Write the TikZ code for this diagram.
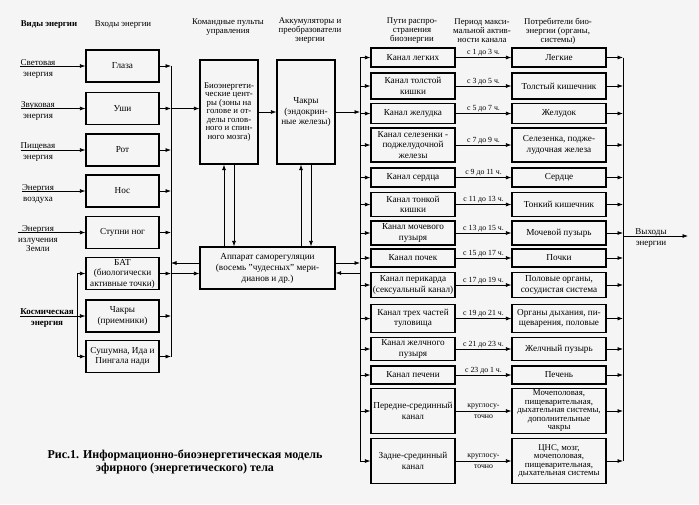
\documentclass[tikz,border=0pt]{standalone}
\usepackage{fontspec}
\setmainfont{Liberation Serif}
\usepackage{tikz}
\usetikzlibrary{arrows.meta, positioning}
\newcommand{\bxfont}{\fontsize{9.2}{10.5}\selectfont}
\newcommand{\tightfont}{\fontsize{8.8}{8.5}\selectfont}
\tikzset{
  ebox/.style={draw, line width=1.2pt, align=center, inner sep=0.5pt,
               font=\bxfont},
  inbox/.style={ebox, minimum width=73pt, minimum height=32pt},
  chbox/.style={ebox, minimum width=84pt},
  obox/.style={ebox, minimum width=94pt},
  hdr/.style={align=center, inner sep=0pt, font=\fontsize{8.8}{9}\selectfont},
  srclbl/.style={align=center, inner sep=0pt, font=\fontsize{9}{9}\selectfont},
  tlbl/.style={inner sep=1pt, align=center, font=\fontsize{7.8}{7.8}\selectfont},
  earr/.style={-{Latex[length=5.5pt, width=4pt]}, line width=0.7pt},
  bus/.style={line width=0.7pt},
}

\begin{document}
\begin{tikzpicture}[x=1pt, y=-1pt]
\useasboundingbox (0,0) rectangle (699,504);
\fill[gray!8] (0,0) rectangle (699,504);
% ---- column headers ----
\node[hdr, font=\fontsize{8.8}{9}\selectfont\bfseries] (hKinds) at (49,25) {Виды энергии};
\node[hdr] (hInputs) at (123,25) {Входы энергии};
\node[hdr] (hCommand) at (228,27.5) {Командные пульты\\управления};
\node[hdr] (hAccum) at (310,31) {Аккумуляторы и\\преобразователи\\энергии};
\node[hdr] (hPaths) at (412,31) {Пути распро-\\странения\\биоэнергии};
\node[hdr] (hPeriod) at (482,31) {Период макси-\\мальной актив-\\ности канала};
\node[hdr] (hUsers) at (558,31) {Потребители био-\\энергии (органы,\\системы)};
% ---- energy kinds ----
\node[srclbl] (light) at (38,68.5) {Световая\\[2pt]энергия};
\node[srclbl] (sound) at (38,111) {Звуковая\\[2pt]энергия};
\node[srclbl] (food) at (38,152.5) {Пищевая\\[2pt]энергия};
\node[srclbl] (air) at (38,193.5) {Энергия\\[2pt]воздуха};
\node[srclbl] (earth) at (38,238.5) {Энергия\\[2pt]излучения\\Земли};
\node[srclbl, font=\fontsize{9}{9}\selectfont\bfseries] (cosmic) at (47,318.5) {Космическая\\[2pt]энергия};
% ---- energy inputs ----
\node[inbox] (eyes) at (122.5,66) {Глаза};
\node[inbox] (ears) at (122.5,108.5) {Уши};
\node[inbox] (mouth) at (122.5,150) {Рот};
\node[inbox] (nose) at (122.5,191) {Нос};
\node[inbox] (feet) at (122.5,232.5) {Ступни ног};
\node[inbox] (bat) at (122.5,273.5) {БАТ\\(биологически\\активные точки)};
\node[inbox] (chakrasIn) at (122.5,316) {Чакры\\(приемники)};
\node[inbox] (sushumna) at (122.5,356.5) {Сушумна, Ида и\\Пингала нади};
\coordinate (fork) at (77,316);
\coordinate (lbus) at (171,0);
\coordinate (rbus) at (360,0);
\coordinate (obus) at (623,0);
% ---- control and accumulators ----
\node[ebox, font=\tightfont, minimum width=58pt, minimum height=104pt] (bio) at (229,112)
  {Биоэнергети-\\ческие цент-\\ры (зоны на\\голове и от-\\делы голов-\\ного и спин-\\ного мозга)};
\node[ebox, minimum width=58pt, minimum height=104pt] (endo) at (306,112)
  {Чакры\\(эндокрин-\\ные железы)};
\node[ebox, minimum width=135pt, minimum height=42pt, font=\fontsize{9.2}{11}\selectfont] (selfreg) at (267.5,268)
  {Аппарат саморегуляции\\(восемь "чудесных" мери-\\дианов и др.)};
% ---- channels ----
\node[chbox, minimum height=19pt] (chLungs) at (413,57.5) {Канал легких};
\node[chbox, minimum height=26pt] (chColon) at (413,86) {Канал толстой\\кишки};
\node[chbox, minimum height=19.5pt] (chStomach) at (413,113.5) {Канал желудка};
\node[chbox, minimum height=34pt] (chSpleen) at (413,145) {Канал селезенки -\\поджелудочной\\железы};
\node[chbox, minimum height=19pt] (chHeart) at (413,177.5) {Канал сердца};
\node[chbox, minimum height=23.5pt] (chSmall) at (413,204.5) {Канал тонкой\\кишки};
\node[chbox, minimum height=24pt] (chBladder) at (413,233) {Канал мочевого\\пузыря};
\node[chbox, minimum height=18pt] (chKidney) at (413,258) {Канал почек};
\node[chbox, minimum height=25pt] (chPeri) at (413,285) {Канал перикарда\\(сексуальный канал)};
\node[chbox, minimum height=28pt] (chTriple) at (413,318.5) {Канал трех частей\\туловища};
\node[chbox, minimum height=23pt] (chGall) at (413,349) {Канал желчного\\пузыря};
\node[chbox, minimum height=18pt] (chLiver) at (413,375) {Канал печени};
\node[chbox, minimum height=45pt] (chFront) at (413,411) {Передне-срединный\\канал};
\node[chbox, minimum height=45pt] (chBack) at (413,461) {Задне-срединный\\канал};
% ---- consumers ----
\node[obox, minimum height=19pt] (orgLungs) at (559,57.5) {Легкие};
\node[obox, minimum height=26pt] (orgColon) at (559,86) {Толстый кишечник};
\node[obox, minimum height=19.5pt] (orgStomach) at (559,113.5) {Желудок};
\node[obox, minimum height=34pt] (orgSpleen) at (559,145) {Селезенка, подже-\\лудочная железа};
\node[obox, minimum height=19pt] (orgHeart) at (559,177.5) {Сердце};
\node[obox, minimum height=23.5pt] (orgSmall) at (559,204.5) {Тонкий кишечник};
\node[obox, minimum height=24pt] (orgBladder) at (559,233) {Мочевой пузырь};
\node[obox, minimum height=18pt] (orgKidney) at (559,258) {Почки};
\node[obox, minimum height=25pt] (orgPeri) at (559,285) {Половые органы,\\сосудистая система};
\node[obox, minimum height=28pt] (orgTriple) at (559,318.5) {Органы дыхания, пи-\\щеварения, половые};
\node[obox, minimum height=23pt] (orgGall) at (559,349) {Желчный пузырь};
\node[obox, minimum height=18pt] (orgLiver) at (559,375) {Печень};
\node[obox, minimum height=45pt, font=\tightfont] (orgFront) at (559,411)
  {Мочеполовая,\\пищеварительная,\\дыхательная системы,\\дополнительные\\чакры};
\node[obox, minimum height=45pt, font=\tightfont] (orgBack) at (559,461)
  {ЦНС, мозг,\\мочеполовая,\\пищеварительная,\\дыхательная системы};
% ---- inputs into boxes ----
\draw[earr] (light.west |- eyes) -- (eyes);
\draw[earr] (sound.west |- ears) -- (ears);
\draw[earr] (food.west |- mouth) -- (mouth);
\draw[earr] (air.west |- nose) -- (nose);
\draw[earr] (earth.west |- feet) -- (feet);
\draw[earr] (light.west |- chakrasIn) -- (chakrasIn);
\draw[earr] (fork) |- (bat);
\draw[earr] (fork) |- (sushumna);
% ---- left bus ----
\draw[bus] (lbus |- eyes) -- (lbus |- sushumna);
\draw[earr] (eyes) -- (lbus |- eyes);
\draw[earr] (ears) -- (lbus |- ears);
\draw[earr] (mouth) -- (lbus |- mouth);
\draw[earr] (nose) -- (lbus |- nose);
\draw[earr] (feet) -- (lbus |- feet);
\draw[earr] (bat) -- (lbus |- bat);
\draw[earr] (chakrasIn) -- (lbus |- chakrasIn);
\draw[earr] (sushumna) -- (lbus |- sushumna);
\draw[earr] (lbus |- ears) -- (bio.west |- ears);
\draw[earr] (lbus |- bat) -- (selfreg.west |- bat);
\coordinate (regOutL) at ([yshift=5pt]selfreg.west);
\draw[earr] (regOutL) -- (lbus |- regOutL);
% ---- centres, chakras and self-regulation ----
\draw[earr] (bio) -- (endo);
\coordinate (bioUp) at ([xshift=-5pt]bio.south);
\coordinate (bioDn) at ([xshift=5pt]bio.south);
\coordinate (endoUp) at ([xshift=-5pt]endo.south);
\coordinate (endoDn) at ([xshift=5pt]endo.south);
\draw[earr] (bioUp |- selfreg.north) -- (bioUp);
\draw[earr] (bioDn) -- (bioDn |- selfreg.north);
\draw[earr] (endoUp |- selfreg.north) -- (endoUp);
\draw[earr] (endoDn) -- (endoDn |- selfreg.north);
% ---- right bus ----
\draw[bus] (rbus |- chLungs) -- (rbus |- chBack);
\draw[earr] (endo) -- (rbus |- endo);
\coordinate (regOutR) at ([yshift=5pt]selfreg.east);
\coordinate (regInR) at ([yshift=-5pt]selfreg.east);
\draw[earr] (regOutR) -- (rbus |- regOutR);
\draw[earr] (rbus |- regInR) -- (regInR);
\draw[earr] (rbus |- chLungs) -- (chLungs);
\draw[earr] (rbus |- chColon) -- (chColon);
\draw[earr] (rbus |- chStomach) -- (chStomach);
\draw[earr] (rbus |- chSpleen) -- (chSpleen);
\draw[earr] (rbus |- chHeart) -- (chHeart);
\draw[earr] (rbus |- chSmall) -- (chSmall);
\draw[earr] (rbus |- chBladder) -- (chBladder);
\draw[earr] (rbus |- chKidney) -- (chKidney);
\draw[earr] (rbus |- chPeri) -- (chPeri);
\draw[earr] (rbus |- chTriple) -- (chTriple);
\draw[earr] (rbus |- chGall) -- (chGall);
\draw[earr] (rbus |- chLiver) -- (chLiver);
\draw[earr] (rbus |- chFront) -- (chFront);
\draw[earr] (rbus |- chBack) -- (chBack);
% ---- channel -> organ, with hours ----
\draw[earr] (chLungs) -- node[tlbl, above] (tLungs) {с 1 до 3 ч.} (orgLungs);
\draw[earr] (chColon) -- node[tlbl, above] (tColon) {с 3 до 5 ч.} (orgColon);
\draw[earr] (chStomach) -- node[tlbl, above] (tStomach) {с 5 до 7 ч.} (orgStomach);
\draw[earr] (chSpleen) -- node[tlbl, above] (tSpleen) {с 7 до 9 ч.} (orgSpleen);
\draw[earr] (chHeart) -- node[tlbl, above] (tHeart) {с 9 до 11 ч.} (orgHeart);
\draw[earr] (chSmall) -- node[tlbl, above] (tSmall) {с 11 до 13 ч.} (orgSmall);
\draw[earr] (chBladder) -- node[tlbl, above] (tBladder) {с 13 до 15 ч.} (orgBladder);
\draw[earr] (chKidney) -- node[tlbl, above] (tKidney) {с 15 до 17 ч.} (orgKidney);
\draw[earr] (chPeri) -- node[tlbl, above] (tPeri) {с 17 до 19 ч.} (orgPeri);
\draw[earr] (chTriple) -- node[tlbl, above] (tTriple) {с 19 до 21 ч.} (orgTriple);
\draw[earr] (chGall) -- node[tlbl, above] (tGall) {с 21 до 23 ч.} (orgGall);
\draw[earr] (chLiver) -- node[tlbl, above] (tLiver) {с 23 до 1 ч.} (orgLiver);
\draw[earr] (chFront) -- node[tlbl] (tFront) {круглосу-\\[3pt]точно} (orgFront);
\draw[earr] (chBack) -- node[tlbl] (tBack) {круглосу-\\[3pt]точно} (orgBack);
% ---- output bus ----
\draw[bus] (obus |- orgLungs) -- (obus |- orgBack);
\draw[earr] (orgLungs) -- (obus |- orgLungs);
\draw[earr] (orgColon) -- (obus |- orgColon);
\draw[earr] (orgStomach) -- (obus |- orgStomach);
\draw[earr] (orgSpleen) -- (obus |- orgSpleen);
\draw[earr] (orgHeart) -- (obus |- orgHeart);
\draw[earr] (orgSmall) -- (obus |- orgSmall);
\draw[earr] (orgBladder) -- (obus |- orgBladder);
\draw[earr] (orgKidney) -- (obus |- orgKidney);
\draw[earr] (orgPeri) -- (obus |- orgPeri);
\draw[earr] (orgTriple) -- (obus |- orgTriple);
\draw[earr] (orgGall) -- (obus |- orgGall);
\draw[earr] (orgLiver) -- (obus |- orgLiver);
\draw[earr] (orgFront) -- (obus |- orgFront);
\draw[earr] (orgBack) -- (obus |- orgBack);
\node[srclbl] (outlbl) at (651,238.5) {Выходы\\[2pt]энергии};
\coordinate (outEnd) at (688,236);
\draw[earr] (obus |- outEnd) -- (outEnd);
% ---- caption ----
\node[align=center, font=\fontsize{12}{13.5}\selectfont\bfseries] (caption) at (185,462)
  {Рис.1. Информационно-биоэнергетическая модель\\эфирного (энергетического) тела};
\end{tikzpicture}
\end{document}
